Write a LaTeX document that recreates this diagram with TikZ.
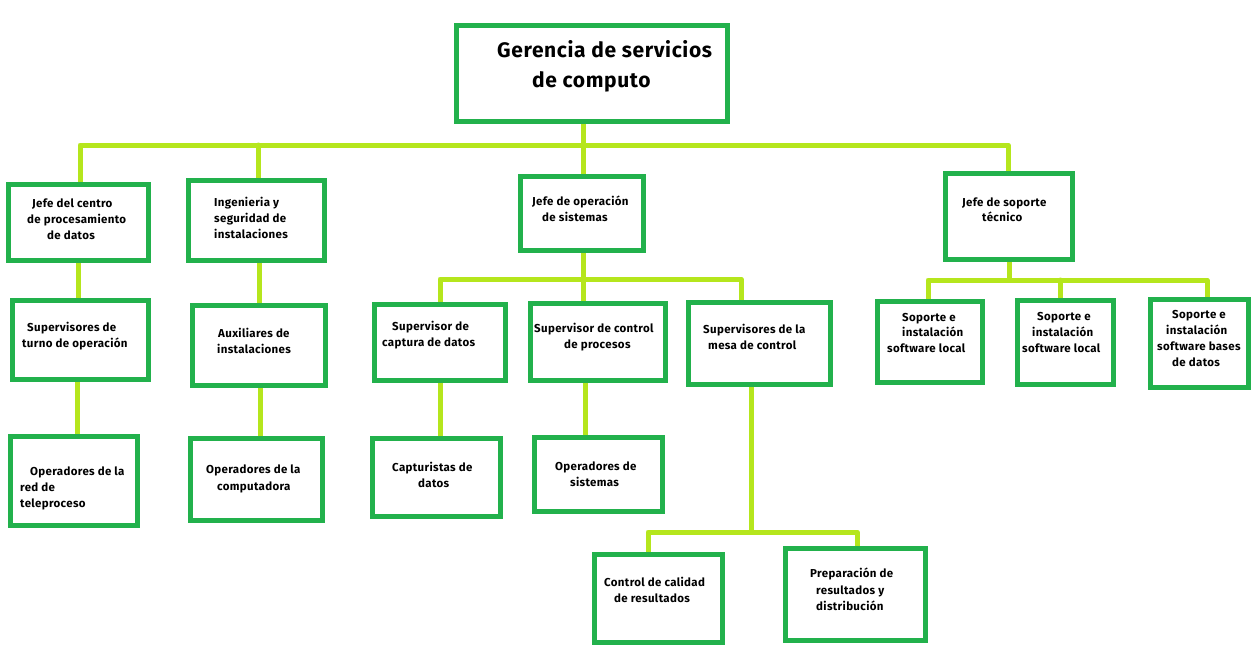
\documentclass[tikz,border=0pt]{standalone}
\usepackage{fontspec}
\setmainfont{Fira Sans}[LetterSpace=3]
\usetikzlibrary{backgrounds}
\definecolor{boxgreen}{HTML}{22B14C}
\definecolor{limeline}{HTML}{B5E61D}
\tikzset{
  box/.style={draw=boxgreen, line width=5pt, fill=white, inner sep=0pt, outer sep=0pt},
  conn/.style={draw=limeline, line width=5pt, line cap=round, line join=round},
  txt/.style={anchor=base west, inner sep=0pt, font=\bfseries\fontsize{11.5}{13}\selectfont},
  ttl/.style={anchor=base west, inner sep=0pt, font=\bfseries\fontsize{21}{25}\selectfont}
}
\newcommand\bx[5]{\node[box, minimum width=#4pt, minimum height=#5pt] (#1) at (#2,#3) {};}
\begin{document}
\begin{tikzpicture}[x=1pt,y=-1pt]
\useasboundingbox (0,0) rectangle (1259,651);
% boxes
\bx{top}{592}{73.5}{271}{96}
\bx{b1}{78.5}{222.5}{140}{76}
\bx{b2}{256.5}{220.5}{136}{80}
\bx{b3}{582}{213.5}{123}{74}
\bx{b4}{1009}{216.5}{127}{86}
\bx{c1}{80.5}{340}{136}{79}
\bx{c2}{259}{345.5}{133}{80}
\bx{c3}{440}{342.5}{131}{76}
\bx{c4}{598}{342}{135}{77}
\bx{c5}{759.5}{343.5}{142}{82}
\bx{c6}{930}{342}{105}{81}
\bx{c7}{1065.5}{342.5}{96}{84}
\bx{c8}{1199.5}{343.5}{98}{88}
\bx{d1}{74}{481}{127}{89}
\bx{d2}{256.5}{479.5}{132}{82}
\bx{d3}{436.5}{477.5}{128}{78}
\bx{d4}{598.5}{474.5}{128}{74}
\bx{e1}{658.5}{598.5}{128}{88}
\bx{e2}{855.5}{594.5}{140}{92}
% texts
\node[ttl] (tt1) at (497,57) {Gerencia de servicios};
\node[ttl] (tt2) at (532,87) {de computo};
\node[txt] (b1t1) at (32,207) {Jefe del centro};
\node[txt] (b1t2) at (27,223) {de procesamiento};
\node[txt] (b1t3) at (47,239) {de datos};
\node[txt] (b2t1) at (214,206) {Ingenieria y};
\node[txt] (b2t2) at (214,222) {seguridad de};
\node[txt] (b2t3) at (214,238) {instalaciones};
\node[txt] (b3t1) at (532,205) {Jefe de operación};
\node[txt] (b3t2) at (542,221) {de sistemas};
\node[txt] (b4t1) at (962,206) {Jefe de soporte};
\node[txt] (b4t2) at (982,221) {técnico};
\node[txt] (c1t1) at (27,331) {Supervisores de};
\node[txt] (c1t2) at (22,347) {turno de operación};
\node[txt] (c2t1) at (218,337) {Auxiliares de};
\node[txt] (c2t2) at (217,353) {instalaciones};
\node[txt] (c3t1) at (392,330) {Supervisor de};
\node[txt] (c3t2) at (382,346) {captura de datos};
\node[txt] (c4t1) at (534,332) {Supervisor de control};
\node[txt] (c4t2) at (564,348) {de procesos};
\node[txt] (c5t1) at (703,333) {Supervisores de la};
\node[txt] (c5t2) at (708,349) {mesa de control};
\node[txt] (c6t1) at (902,321) {Soporte e};
\node[txt] (c6t2) at (902,336) {instalación};
\node[txt] (c6t3) at (887,352) {software local};
\node[txt] (c7t1) at (1037,320) {Soporte e};
\node[txt] (c7t2) at (1032,336) {instalación};
\node[txt] (c7t3) at (1022,352) {software local};
\node[txt] (c8t1) at (1172,318) {Soporte e};
\node[txt] (c8t2) at (1166,334) {instalación};
\node[txt] (c8t3) at (1157,350) {software bases};
\node[txt] (c8t4) at (1172,366) {de datos};
\node[txt] (d1t1) at (30,475) {Operadores de la};
\node[txt] (d1t2) at (20,491) {red de};
\node[txt] (d1t3) at (20,507) {teleproceso};
\node[txt] (d2t1) at (206,473) {Operadores de la};
\node[txt] (d2t2) at (217,490) {computadora};
\node[txt] (d3t1) at (392,471) {Capturistas de};
\node[txt] (d3t2) at (418,487) {datos};
\node[txt] (d4t1) at (555,470) {Operadores de};
\node[txt] (d4t2) at (570,486) {sistemas};
\node[txt] (e1t1) at (604,586) {Control de calidad};
\node[txt] (e1t2) at (614,602) {de resultados};
\node[txt] (e2t1) at (810,577) {Preparación de};
\node[txt] (e2t2) at (816,594) {resultados y};
\node[txt] (e2t3) at (816,610) {distribución};
% connectors
\begin{pgfonlayer}{background}
\fill[white] (0,0) rectangle (1259,651);
\coordinate (ja) at (80,145);
\coordinate (jb) at (258,145);
\coordinate (jc) at (583,145);
\coordinate (jd) at (1008,145);
\draw[conn] (top.south -| jc) -- (jc);
\draw[conn] (b1.north -| ja) -- (ja) -- (jd) -- (b4.north -| jd);
\draw[conn] (jb) -- (b2.north -| jb);
\draw[conn] (jc) -- (b3.north -| jc);
\coordinate (k1) at (78,0);
\coordinate (k2) at (259,0);
\coordinate (k3) at (77,0);
\coordinate (k4) at (260,0);
\coordinate (k5) at (440,0);
\coordinate (k6) at (585,0);
\draw[conn] (b1.south -| k1) -- (c1.north -| k1);
\draw[conn] (b2.south -| k2) -- (c2.north -| k2);
\draw[conn] (c1.south -| k3) -- (d1.north -| k3);
\draw[conn] (c2.south -| k4) -- (d2.north -| k4);
\draw[conn] (c3.south -| k5) -- (d3.north -| k5);
\draw[conn] (c4.south -| k6) -- (d4.north -| k6);
\coordinate (ma) at (440,279);
\coordinate (mb) at (583,279);
\coordinate (mc) at (741,279);
\draw[conn] (c3.north -| ma) -- (ma) -- (mc) -- (c5.north -| mc);
\draw[conn] (b3.south -| mb) -- (c4.north -| mb);
\coordinate (na) at (648,532);
\coordinate (nb) at (751,532);
\coordinate (nc) at (857,532);
\draw[conn] (e1.north -| na) -- (na) -- (nc) -- (e2.north -| nc);
\draw[conn] (c5.south -| nb) -- (nb);
\coordinate (pa) at (928,280);
\coordinate (pb) at (1009,280);
\coordinate (pc) at (1207,280);
\coordinate (pd) at (1060,280);
\draw[conn] (c6.north -| pa) -- (pa) -- (pc) -- (c8.north -| pc);
\draw[conn] (b4.south -| pb) -- (pb);
\draw[conn] (pd) -- (c7.north -| pd);
\end{pgfonlayer}
\end{tikzpicture}
\end{document}
